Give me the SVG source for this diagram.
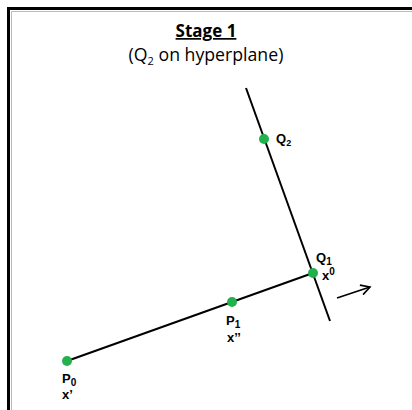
<svg xmlns="http://www.w3.org/2000/svg" width="412" height="410" viewBox="0 0 412 410">
<style>
.t{font-family:"Open Sans","Liberation Sans",sans-serif;fill:#000}
.lb{font-family:"Liberation Sans",Arial,sans-serif;font-weight:bold;font-size:13px;fill:#000}
.dot{fill:#22b14c}
.ln{stroke:#000;stroke-width:2;fill:none}
</style>
<defs>
<marker id="ah" markerWidth="12" markerHeight="12" refX="10" refY="6" orient="auto" markerUnits="userSpaceOnUse">
<path d="M1,1 L10,6 L1,11" fill="none" stroke="#000" stroke-width="1.6"/>
</marker>
</defs>
<rect x="0" y="0" width="412" height="410" fill="#fff"/>
<path d="M8.5,410 V8.5 H412" fill="none" stroke="#000" stroke-width="3"/>
<path d="M11.5,410 V11.5 H412" fill="none" stroke="#bbb" stroke-width="1"/>
<g id="title">
<text class="t" x="206" y="37" font-size="17" font-weight="bold" text-anchor="middle" text-decoration="underline">Stage 1</text>
<text class="t" x="206" y="61" font-size="17.7" text-anchor="middle">(Q<tspan font-size="11" dy="4">2</tspan><tspan dy="-4"> on hyperplane)</tspan></text>
</g>
<g id="connectors">
<line class="ln" x1="246" y1="88" x2="330" y2="321"/>
<line class="ln" x1="67" y1="361" x2="313" y2="273"/>
<line x1="337" y1="298" x2="370" y2="287" stroke="#000" stroke-width="1.6" marker-end="url(#ah)"/>
</g>
<g id="Q2">
<circle class="dot" cx="264" cy="139" r="5"/>
<text class="lb" x="276" y="143">Q<tspan font-size="9" dy="3">2</tspan></text>
</g>
<g id="Q1">
<circle class="dot" cx="313" cy="273" r="5"/>
<text class="lb" x="316" y="262">Q<tspan font-size="10" dy="3">1</tspan></text>
<text class="lb" x="322" y="280">x<tspan font-size="10" dy="-5">0</tspan></text>
</g>
<g id="P1">
<circle class="dot" cx="232" cy="302" r="5"/>
<text class="lb" x="226" y="325">P<tspan font-size="10" dy="3">1</tspan></text>
<text class="lb" x="227" y="342">x’’</text>
</g>
<g id="P0">
<circle class="dot" cx="67" cy="361" r="5"/>
<text class="lb" x="62" y="383">P<tspan font-size="10" dy="3">0</tspan></text>
<text class="lb" x="62" y="399">x’</text>
</g>
</svg>
